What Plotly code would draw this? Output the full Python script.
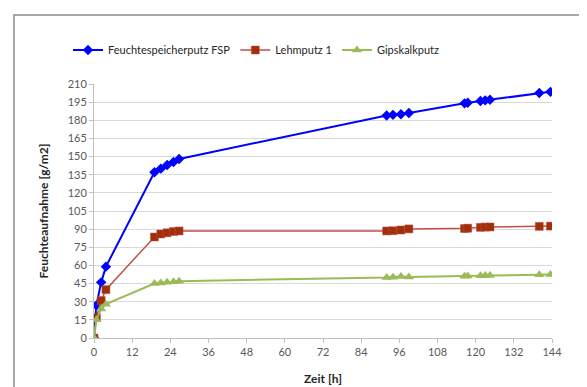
import plotly.graph_objects as go

# time points [h]
zeit = [0, 0.75, 2.25, 3.75, 19, 21, 23, 25, 26.75, 92, 94, 96.5, 99,
        116.5, 117.5, 121.5, 123, 124.5, 140, 143.5]

fsp = [0, 27, 46, 59, 137, 140, 143, 145.5, 148, 184, 184.5, 185, 186,
       194, 194.5, 196, 196.5, 197, 202.5, 203.5]
lehm = [0, 17, 31, 40, 83.5, 86, 87, 88, 88.5, 88.5, 88.7, 89.3, 90.2,
        90.5, 90.8, 91.5, 91.7, 91.8, 92.3, 92.5]
gips = [0, 15, 24, 28, 45, 45.5, 46, 46.5, 47, 50, 50.3, 50.8, 50.5,
        51, 51.2, 51.5, 51.6, 51.7, 52.3, 52.5]

names = ["Feuchtespeicherputz FSP", "Lehmputz 1", "Gipskalkputz"]
x_ticks = list(range(0, 145, 12))
y_ticks = list(range(0, 211, 15))

W, H = 587, 387
L, R, T, B = 86, 43, 76, 57
pw, ph = W - L - R, H - T - B

def px_x(p):
    return (p - L) / pw

def px_y(p):
    return (H - B - p) / ph

fig = go.Figure()
fig.add_trace(go.Scatter(x=zeit, y=fsp, name=names[0], mode="lines+markers",
                         line=dict(color="#0000FF", width=2),
                         marker=dict(symbol="diamond", size=8, color="#0000FF")))
fig.add_trace(go.Scatter(x=zeit, y=lehm, name=names[1], mode="lines+markers",
                         line=dict(color="#C0504D", width=1.5),
                         marker=dict(symbol="square", size=8, color="#A0300A",
                                     line=dict(color="#C0504D", width=0.5))))
fig.add_trace(go.Scatter(x=zeit, y=gips, name=names[2], mode="lines+markers",
                         line=dict(color="#9BBB59", width=2),
                         marker=dict(symbol="triangle-up", size=9, color="#9BBB59")))

font_family = "Lato, 'Open Sans', sans-serif"

fig.update_layout(
    width=W, height=H,
    margin=dict(l=L, r=R, t=T, b=B),
    paper_bgcolor="white", plot_bgcolor="white",
    font=dict(family=font_family, size=10, color="#404040"),
    showlegend=True,
    legend=dict(orientation="h", x=px_x(60), y=px_y(42), xanchor="left", yanchor="middle",
                font=dict(size=11, color="#262626"), itemwidth=30, bgcolor="rgba(0,0,0,0)"),
    xaxis=dict(range=[0, 144], tickvals=x_ticks, ticktext=[str(v) for v in x_ticks],
               showgrid=False, zeroline=False, showline=True, linecolor="#BFBFBF", linewidth=1,
               ticks="outside", ticklen=4, tickcolor="#BFBFBF",
               tickfont=dict(size=11, color="#595959"),
               title=dict(text="<b>Zeit [h]</b>", font=dict(size=12, color="#262626"), standoff=17)),
    yaxis=dict(range=[0, 210], tickvals=y_ticks, ticktext=[str(v) for v in y_ticks],
               showgrid=True, gridcolor="#D9D9D9", gridwidth=1, zeroline=False,
               showline=True, linecolor="#BFBFBF", linewidth=1,
               ticks="outside", ticklen=4, tickcolor="#BFBFBF",
               tickfont=dict(size=11, color="#595959"),
               title=dict(text="<b>Feuchteaufnahme [g/m2]</b>", font=dict(size=12, color="#262626"), standoff=16)),
    shapes=[dict(type="rect", xref="paper", yref="paper",
                 x0=px_x(6), x1=px_x(600), y0=px_y(384), y1=px_y(7),
                 line=dict(color="#8C8C8C", width=1.5), fillcolor="rgba(0,0,0,0)", layer="below")],
)

fig.write_html("out.html")
